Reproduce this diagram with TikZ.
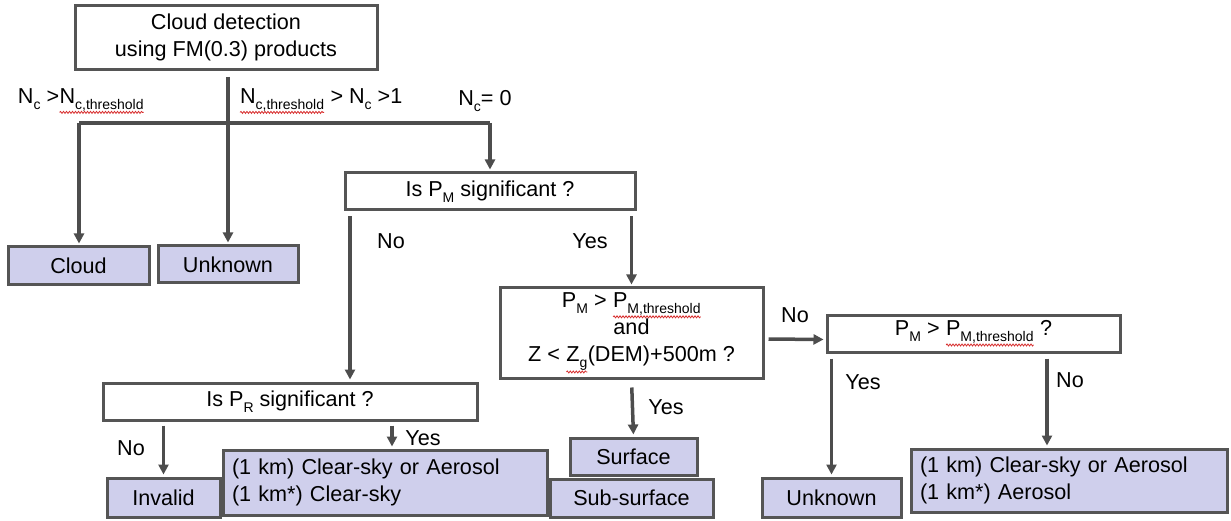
\documentclass[tikz,border=0pt]{standalone}
\usepackage{fontspec}
\setmainfont{Liberation Sans}
\usetikzlibrary{arrows.meta,decorations.pathmorphing,calc}

\definecolor{edge}{HTML}{555555}
\definecolor{wire}{HTML}{4D4D4D}
\definecolor{result}{RGB}{207,207,236}
\definecolor{spell}{RGB}{215,45,45}

% lowered small index
\newcommand\lsub[1]{\raisebox{-0.28em}{\fontsize{14}{14}\selectfont #1}}
% word with a red wavy underline
\newcommand\squig[1]{\tikz[baseline=(sq.base)]{\node[inner sep=0pt,outer sep=0pt,minimum width=0pt,minimum height=0pt] (sq) {#1};\draw[spell,line width=0.8pt,decorate,decoration={snake,amplitude=1pt,segment length=3pt}] ([yshift=-1.5pt]sq.south west) -- ([yshift=-1.5pt]sq.south east);}}

\tikzset{
  query/.style={draw=edge, line width=3pt, fill=white, inner sep=0pt,
    font=\fontsize{21.6}{27}\selectfont, align=center},
  outcome/.style={query, fill=result},
  tag/.style={inner sep=0pt, font=\fontsize{21.6}{27}\selectfont},
  flow/.style={draw=wire, line width=3.5pt},
  flowto/.style={flow, -{Triangle[length=10pt,width=10pt]}, shorten >=2pt},
}

\begin{document}
\begin{tikzpicture}[x=1pt, y=-1pt]
\useasboundingbox (0,0) rectangle (1231,521);

% decision boxes
\node[query, minimum width=302pt, minimum height=64pt] (top) at (226,37.5)
  {Cloud detection\\using FM(0.3) products};
\node[query, minimum width=290pt, minimum height=37pt] (pm) at (490,191.5)
  {Is P\lsub{M} significant ?};
\node[query, minimum width=263pt, minimum height=90pt] (cond) at (631.5,333)
  {P\lsub{M} > \squig{P\lsub{M,threshold}}\\and\\Z < \squig{Z\lsub{g}}(DEM)+500m ?};
\node[query, minimum width=293pt, minimum height=37pt] (pmq) at (973.5,333.5)
  {P\lsub{M} > \squig{P\lsub{M,threshold}} ?};
\node[query, minimum width=374pt, minimum height=37pt] (pr) at (290,401.5)
  {Is P\lsub{R} significant ?};

% outcome boxes
\node[outcome, minimum width=141pt, minimum height=38pt] (cloud) at (78.5,266) {Cloud};
\node[outcome, minimum width=140pt, minimum height=37pt] (unk1) at (228,264.5) {Unknown};
\node[outcome, minimum width=113pt, minimum height=39pt] (inv) at (163.5,497.5) {Invalid};
\node[outcome, minimum width=324pt, minimum height=65pt, text width=306pt, align=left] (clr1) at (385,482.5)
  {(1 km) Clear-sky or Aerosol\\(1 km*) Clear-sky};
\node[outcome, minimum width=127pt, minimum height=37pt] (surf) at (633.5,456.5) {Surface};
\node[outcome, minimum width=163pt, minimum height=38pt] (sub) at (631.5,498) {Sub-surface};
\node[outcome, minimum width=139pt, minimum height=39pt] (unk2) at (831.5,497.5) {Unknown};
\node[outcome, minimum width=316pt, minimum height=63pt, text width=298pt, align=left] (clr2) at (1069,480.5)
  {(1 km) Clear-sky or Aerosol\\(1 km*) Aerosol};

% branch labels
\node[tag] (t1) at (81,101) {N\lsub{c} >\squig{N\lsub{c,threshold}}};
\node[tag] (t2) at (321,101) {\squig{N\lsub{c,threshold}} > N\lsub{c} >1};
\node[tag] (t3) at (485,101) {N\lsub{c}= 0};
\node[tag] (t4) at (391,241) {No};
\node[tag] (t5) at (590,241) {Yes};
\node[tag] (t6) at (795,315) {No};
\node[tag] (t7) at (666,407) {Yes};
\node[tag] (t8) at (863,382) {Yes};
\node[tag] (t9) at (1070,380) {No};
\node[tag] (t10) at (131,448) {No};
\node[tag] (t11) at (423,438) {Yes};

% splitter bar under the first box
\coordinate (hl) at (79,123);
\coordinate (hr) at (490,123);
\coordinate (nx) at (1047,0);
\coordinate (yx) at (392,0);
\coordinate (px) at (350,0);

\draw[flow] (hl) -- (hr);
\draw[flowto, shorten <=6pt] (top.south -| unk1.north) -- (unk1.north);
\draw[flowto] (hl) -- (hl |- cloud.north);
\draw[flowto] (hr) -- (pm.north);

% first test
\draw[flowto, shorten <=5pt] (px |- pm.south) -- (px |- pr.north);
\draw[flowto, shorten <=5pt] (cond.north |- pm.south) -- (cond.north);

% combined test
\draw[flowto, shorten <=4pt] ($(cond.east)+(0,6)$) -- ($(pmq.west)+(0,6)$);
\draw[flowto, shorten <=8pt] (cond.south) -- (surf.north);

% threshold test
\draw[flowto, shorten <=5pt] (unk2.north |- pmq.south) -- (unk2.north);
\draw[flowto, shorten <=5pt] (nx |- pmq.south) -- (nx |- clr2.north);

% P_R test
\draw[flowto, shorten <=4pt] (inv.north |- pr.south) -- (inv.north);
\draw[flowto, shorten <=4pt] (yx |- pr.south) -- (yx |- clr1.north);
\end{tikzpicture}
\end{document}
